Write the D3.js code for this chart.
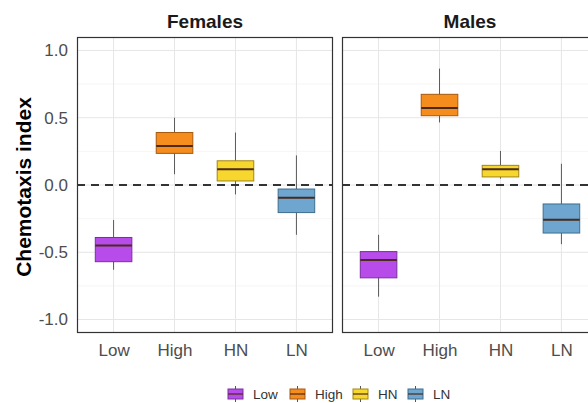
<!DOCTYPE html>
<html><head><meta charset="utf-8">
<script src="https://cdn.jsdelivr.net/npm/d3@7"></script>
<style>body{margin:0;background:#fff}svg{display:block;font-family:"Liberation Sans",Arial,sans-serif}</style>
</head><body><svg id="c" width="588" height="403"></svg>
<script>
const categories = ["Low","High","HN","LN"];
const panels = ["Females","Males"];
// [whiskerLow, q1, median, q3, whiskerHigh]
const femalesStats = [
  [-0.63,-0.57,-0.45,-0.39,-0.26],
  [0.08,0.235,0.29,0.39,0.50],
  [-0.07,0.03,0.117,0.18,0.39],
  [-0.37,-0.205,-0.094,-0.03,0.22]
];
const malesStats = [
  [-0.83,-0.69,-0.558,-0.495,-0.37],
  [0.465,0.515,0.572,0.674,0.865],
  [0.047,0.06,0.117,0.146,0.253],
  [-0.44,-0.357,-0.258,-0.141,0.158]
];
const yTicks = [-1.0,-0.5,0.0,0.5,1.0];
const yMinor = [-0.75,-0.25,0.25,0.75];
const fills = ["#B84CEB","#F58C1E","#F7D62E","#6EA6D0"];
const strokes = ["#7a2e9e","#a5590f","#a08618","#3f6d8f"];

(function(){
const svg = d3.select("#c");
const pTop = 37, pBottom = 333, pw = 256;
const panelLeft = [77, 342];
const y = d3.scaleLinear().domain([-1.1,1.1]).range([pBottom, pTop]);
const data = [femalesStats, malesStats];

panels.forEach((p, pi) => {
  const x0 = panelLeft[pi];
  const x = d3.scalePoint().domain(categories).range([x0 + pw*0.6/4.2, x0 + pw - pw*0.6/4.2]);
  const bw = x.step()*0.6;
  const g = svg.append("g");
  g.selectAll(".gm").data(yMinor).join("line")
    .attr("x1",x0).attr("x2",x0+pw).attr("y1",d=>y(d)).attr("y2",d=>y(d))
    .attr("stroke","#f0f0f0").attr("stroke-width",0.6);
  g.selectAll(".gM").data(yTicks).join("line")
    .attr("x1",x0).attr("x2",x0+pw).attr("y1",d=>y(d)).attr("y2",d=>y(d))
    .attr("stroke","#e6e6e6").attr("stroke-width",1);
  g.selectAll(".gx").data(categories).join("line")
    .attr("x1",d=>x(d)).attr("x2",d=>x(d)).attr("y1",pTop).attr("y2",pBottom)
    .attr("stroke","#e6e6e6").attr("stroke-width",1);
  const st = data[pi];
  categories.forEach((c, ci) => {
    const s = st[ci], cx = x(c);
    g.append("line").attr("x1",cx).attr("x2",cx).attr("y1",y(s[0])).attr("y2",y(s[4]))
      .attr("stroke","#5a5a5a").attr("stroke-width",1);
    g.append("rect").attr("x",cx-bw/2).attr("width",bw).attr("y",y(s[3])).attr("height",y(s[1])-y(s[3]))
      .attr("fill",fills[ci]).attr("stroke",strokes[ci]).attr("stroke-width",1);
    g.append("line").attr("x1",cx-bw/2).attr("x2",cx+bw/2).attr("y1",y(s[2])).attr("y2",y(s[2]))
      .attr("stroke","#4a2a1a").attr("stroke-width",2);
  });
  g.append("line").attr("x1",x0).attr("x2",x0+pw).attr("y1",y(0)).attr("y2",y(0))
    .attr("stroke","#333").attr("stroke-width",2).attr("stroke-dasharray","8,6");
  g.append("rect").attr("x",x0+0.5).attr("y",pTop+0.5).attr("width",pw-1).attr("height",pBottom-pTop-1)
    .attr("fill","none").attr("stroke","#333").attr("stroke-width",1.2);
  g.append("text").attr("x",x0+pw/2).attr("y",28).attr("text-anchor","middle")
    .attr("font-size",19).attr("font-weight","bold").attr("fill","#1a1a1a").text(p);
  const xa = d3.axisBottom(x).tickSize(0).tickPadding(11);
  const ax = g.append("g").attr("transform",`translate(0,${pBottom})`).call(xa);
  ax.select(".domain").remove();
  ax.selectAll("text").attr("font-size",17).attr("fill","#4d4d4d").attr("font-family","Liberation Sans, Arial, sans-serif");
});

const ya = d3.axisLeft(y).tickValues(yTicks).tickFormat(d=>d3.format(".1f")(d).replace("−","-")).tickSize(0).tickPadding(9);
const ay = svg.append("g").attr("transform",`translate(${panelLeft[0]},0)`).call(ya);
ay.select(".domain").remove();
ay.selectAll("text").attr("font-size",17).attr("fill","#4d4d4d").attr("font-family","Liberation Sans, Arial, sans-serif");

svg.append("text").attr("transform",`translate(31,187) rotate(-90)`)
  .attr("text-anchor","middle").attr("font-size",21).attr("font-weight","bold").attr("fill","#000")
  .text("Chemotaxis index");

const legX = [228, 290, 353, 408];
const lg = svg.append("g");
categories.forEach((c, ci) => {
  const lx = legX[ci], ly = 394;
  lg.append("line").attr("x1",lx+7.5).attr("x2",lx+7.5).attr("y1",ly-8).attr("y2",ly+8)
    .attr("stroke","#555").attr("stroke-width",1);
  lg.append("rect").attr("x",lx).attr("y",ly-5).attr("width",15).attr("height",10)
    .attr("fill",fills[ci]).attr("stroke",strokes[ci]).attr("stroke-width",1);
  lg.append("line").attr("x1",lx).attr("x2",lx+15).attr("y1",ly).attr("y2",ly)
    .attr("stroke","#4a2a1a").attr("stroke-width",1.2);
  lg.append("text").attr("x",lx+25).attr("y",ly+5).attr("font-size",13.5).attr("fill","#333").text(c);
});
})();
</script></body></html>
